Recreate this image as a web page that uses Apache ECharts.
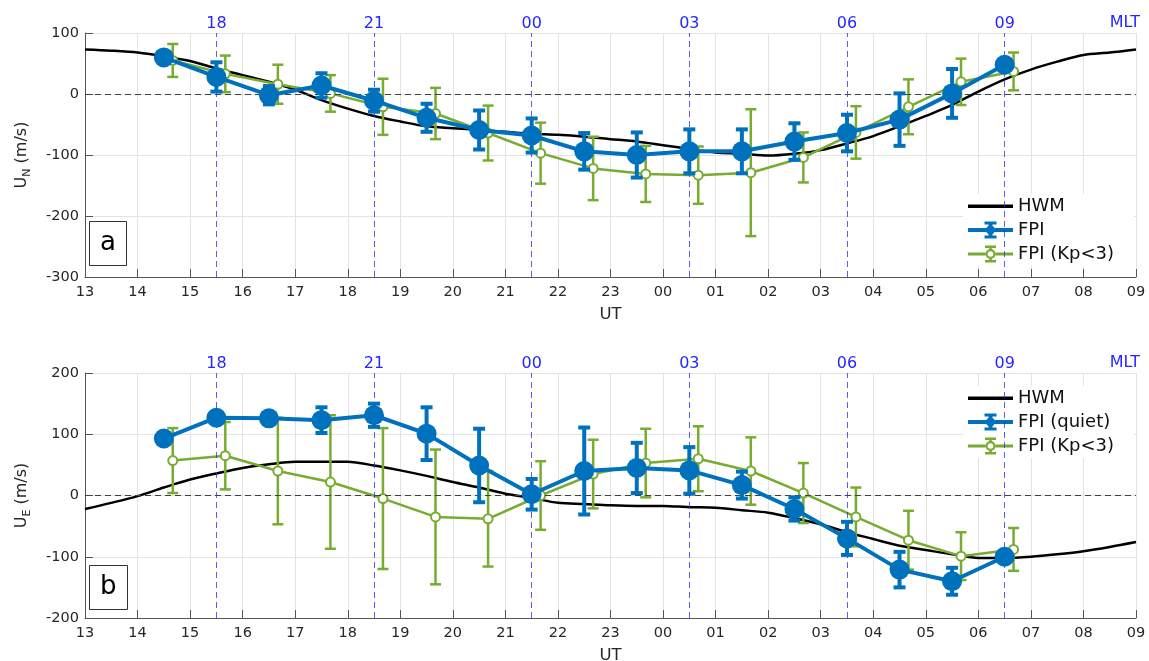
<!DOCTYPE html>
<html>
<head>
<meta charset="utf-8">
<script src="https://cdn.jsdelivr.net/npm/echarts@6/dist/echarts.min.js"></script>
<style>
html,body{margin:0;padding:0;background:#fff;}
#main{width:1149px;height:661px;}
</style>
</head>
<body>
<div id="main"></div>
<script>
// UT hours (13 .. 33 = 09 next day)
var hwmUT = [13,13.5,14,14.5,15,15.5,16,16.5,17,17.5,18,18.5,19,19.5,20,20.5,21,21.5,22,22.5,23,
             23.5,24,24.5,25,25.5,26,26.5,27,27.5,28,28.5,29,29.5,30,30.5,31,31.5,32,32.5,33];
var fpiUT = [14.5,15.5,16.5,17.5,18.5,19.5,20.5,21.5,22.5,23.5,24.5,25.5,26.5,27.5,28.5,29.5,30.5];
var kpUT  = [14.67,15.67,16.67,17.67,18.67,19.67,20.67,21.67,22.67,23.67,24.67,25.67,26.67,27.67,28.67,29.67,30.67];

// MLT markers
var mltUT = [15.5,18.5,21.5,24.5,27.5,30.5];
var mltLabels = ['18','21','00','03','06','09'];

// panel a : U_N
var hwmA = [73,71,68,62,54,42,31,20,7,-10,-24,-36,-45,-53,-56,-59,-62,-65,-67,-70,-74,
            -78,-84,-90,-96,-98,-101,-98,-92,-81,-69,-53,-36,-18,4,24,40,53,64,68,73];
var fpiA    = [60,28,-2,14,-11,-39,-59,-68,-94,-100,-94,-94,-78,-64,-42,1,48];
var fpiAErr = [8,24,15,20,18,23,32,28,30,37,36,36,30,30,43,40,8];
var kpA     = [55,33,16,1,-21,-32,-64,-97,-122,-131,-133,-129,-104,-63,-21,20,37];
var kpAErr  = [27,30,32,30,46,42,45,50,52,46,47,104,41,43,45,38,31];

// panel b : U_E
var hwmB = [-22,-12,-1,13,26,36,45,51,55,55,55,49,41,32,22,13,3,-4,-12,-14,-16,
            -17,-17,-19,-20,-24,-28,-37,-47,-60,-71,-82,-89,-96,-102,-102,-100,-96,-91,-84,-76];
var fpiB    = [93,127,126,123,131,101,49,2,40,45,41,17,-22,-70,-121,-140,-100];
var fpiBErr = [8,8,8,21,19,43,60,25,71,41,38,22,19,27,29,22,8];
var kpB     = [57,65,40,22,-5,-35,-38,0,35,53,60,40,4,-35,-73,-99,-88];
var kpBErr  = [53,55,87,109,115,110,78,56,56,56,53,55,49,48,48,39,35];

var BLUE = '#0072BD', GREEN = '#77AC30', MLTC = '#2626ff';
var FONT = 'DejaVu Sans';

// legend icons (line + errorbar + marker), drawn in a 45x17 box
var ICON_HWM = 'path://M0 7H45V10.5H0Z M0 0H0.01V17H0Z M44.99 0H45V17H44.99Z';
var ICON_FPI = 'path://M0 6.5H45V10.5H0Z M20.5 0H24.5V17H20.5Z M16.5 0H28.5V3H16.5Z M16.5 14H28.5V17H16.5Z' +
               'M27 8.5A4.5 4.5 0 1 1 18 8.5A4.5 4.5 0 1 1 27 8.5Z';
var ICON_KP  = 'path://M0 7H17.5V10H0Z M27.5 7H45V10H27.5Z M21.25 0H23.75V4H21.25Z M21.25 13H23.75V17H21.25Z' +
               'M17 0H28V2.5H17Z M17 14.5H28V17H17Z' +
               'M27.5 8.5A5 5 0 1 1 17.5 8.5A5 5 0 1 1 27.5 8.5Z M25.3 8.5A2.8 2.8 0 1 0 19.7 8.5A2.8 2.8 0 1 0 25.3 8.5Z';

function pad(v){ v = ((v % 24) + 24) % 24; return (v < 10 ? '0' : '') + v; }
function pairs(xs, ys){ var r = []; for (var i = 0; i < xs.length; i++) r.push([xs[i], ys[i]]); return r; }
function errs(xs, ys, es){ var r = []; for (var i = 0; i < xs.length; i++) r.push([xs[i], ys[i]-es[i], ys[i]+es[i]]); return r; }

function errRender(color, lw, cap){
  return function(params, api){
    var x = api.value(0);
    var lo = api.coord([x, api.value(1)]);
    var hi = api.coord([x, api.value(2)]);
    var st = {stroke: color, lineWidth: lw};
    return {type: 'group', children: [
      {type: 'line', shape: {x1: lo[0], y1: lo[1], x2: hi[0], y2: hi[1]}, style: st},
      {type: 'line', shape: {x1: lo[0]-cap/2, y1: lo[1], x2: lo[0]+cap/2, y2: lo[1]}, style: st},
      {type: 'line', shape: {x1: hi[0]-cap/2, y1: hi[1], x2: hi[0]+cap/2, y2: hi[1]}, style: st}
    ]};
  };
}

function markLines(){
  var d = [{yAxis: 0, lineStyle: {color: '#404040', type: [6,4], width: 1}}];
  for (var i = 0; i < mltUT.length; i++){
    d.push({xAxis: mltUT[i], lineStyle: {color: MLTC, type: [6,4], width: 1, opacity: 0.75}});
  }
  return {silent: true, symbol: 'none', label: {show: false}, data: d};
}

function utAxis(g){
  return {
    type: 'value', gridIndex: g, min: 13, max: 33, interval: 1,
    name: 'UT', nameLocation: 'middle', nameGap: 29,
    nameTextStyle: {fontFamily: FONT, fontSize: 16.5, color: '#262626'},
    axisLine: {show: true, onZero: false, lineStyle: {color: '#555'}},
    axisTick: {inside: true, length: 8, lineStyle: {color: '#555'}},
    axisLabel: {fontFamily: FONT, fontSize: 14.5, color: '#262626', margin: 8, formatter: pad},
    splitLine: {show: true, lineStyle: {color: '#e3e3e3'}}
  };
}
function mltAxis(g){
  return {
    type: 'value', gridIndex: g, position: 'top', min: 13, max: 33,
    axisLine: {show: false}, axisTick: {show: false}, splitLine: {show: false},
    axisLabel: {customValues: mltUT, fontFamily: FONT, fontSize: 16, color: MLTC, margin: 1,
      formatter: function(v){ var i = mltUT.indexOf(v); return i < 0 ? '' : mltLabels[i]; }}
  };
}
function yAxis(g, min, max, sub){
  return {
    type: 'value', gridIndex: g, min: min, max: max, interval: 100,
    name: '{u|U}{s|' + sub + '}{u| (m/s)}', nameLocation: 'middle', nameGap: 52,
    nameTextStyle: {fontFamily: FONT, color: '#262626',
      rich: {u: {fontSize: 16, fontFamily: FONT, color: '#262626'},
             s: {fontSize: 11, fontFamily: FONT, color: '#262626', padding: [12, 0, 0, 0]}}},
    axisLine: {show: true, lineStyle: {color: '#555'}},
    axisTick: {inside: true, length: 8, lineStyle: {color: '#555'}},
    axisLabel: {fontFamily: FONT, fontSize: 14.5, color: '#262626', margin: 6},
    splitLine: {show: true, lineStyle: {color: '#e3e3e3'}}
  };
}

function panelSeries(xi, yi, hwm, fpi, fpiErr, kp, kpErr, fpiName){
  return [
    {name: 'HWM', type: 'line', xAxisIndex: xi, yAxisIndex: yi, data: pairs(hwmUT, hwm),
     symbol: 'none', smooth: 0.3, z: 2, color: '#000',
     lineStyle: {color: '#000', width: 2.5}, markLine: markLines()},
    {type: 'custom', xAxisIndex: xi, yAxisIndex: yi, data: errs(kpUT, kp, kpErr), z: 3,
     renderItem: errRender(GREEN, 2.5, 11)},
    {name: 'FPI (Kp<3)', type: 'line', xAxisIndex: xi, yAxisIndex: yi, data: pairs(kpUT, kp), z: 4,
     symbol: 'emptyCircle', symbolSize: 9, color: GREEN,
     itemStyle: {color: GREEN, borderWidth: 2}, lineStyle: {color: GREEN, width: 2.5}},
    {type: 'custom', xAxisIndex: xi, yAxisIndex: yi, data: errs(fpiUT, fpi, fpiErr), z: 5,
     renderItem: errRender(BLUE, 4, 12)},
    {name: fpiName, type: 'line', xAxisIndex: xi, yAxisIndex: yi, data: pairs(fpiUT, fpi), z: 6,
     symbol: 'circle', symbolSize: 20, color: BLUE,
     itemStyle: {color: BLUE}, lineStyle: {color: BLUE, width: 4}}
  ];
}

function legend(top, fpiName){
  return {
    orient: 'vertical', left: 963, top: top, backgroundColor: '#fff',
    itemWidth: 45, itemHeight: 17, itemGap: 6, padding: [3, 20, 3, 5],
    symbolKeepAspect: false,
    data: [
      {name: 'HWM', icon: ICON_HWM, itemStyle: {color: '#000', borderWidth: 0}},
      {name: fpiName, icon: ICON_FPI, itemStyle: {color: BLUE, borderWidth: 0}},
      {name: 'FPI (Kp<3)', icon: ICON_KP, itemStyle: {color: GREEN, borderWidth: 0}}
    ],
    textStyle: {fontFamily: FONT, fontSize: 18, lineHeight: 18, color: '#111'}, selectedMode: false
  };
}

function panelLabel(txt, top){
  return {text: txt, left: 89, top: top, backgroundColor: '#fff', borderColor: '#333', borderWidth: 1,
          padding: [9, 11, 10, 11],
          textStyle: {fontFamily: FONT, fontSize: 26, fontWeight: 'normal', color: '#000'}};
}

var chart = echarts.init(document.getElementById('main'), null, {renderer: 'canvas'});
var option = {
  animation: false,
  backgroundColor: '#fff',
  title: [panelLabel('a', 221), panelLabel('b', 565)],
  grid: [
    {left: 85, top: 33, width: 1051, height: 244, outerBoundsMode: 'none'},
    {left: 85, top: 373, width: 1051, height: 245, outerBoundsMode: 'none'}
  ],
  xAxis: [utAxis(0), mltAxis(0), utAxis(1), mltAxis(1)],
  yAxis: [yAxis(0, -300, 100, 'N'), yAxis(1, -200, 200, 'E')],
  legend: [legend(194, 'FPI'), legend(386, 'FPI (quiet)')],
  graphic: [
    {type: 'text', right: 9, top: 15, style: {text: 'MLT', fontFamily: FONT, fontSize: 16, fill: MLTC}},
    {type: 'text', right: 9, top: 355, style: {text: 'MLT', fontFamily: FONT, fontSize: 16, fill: MLTC}}
  ],
  series: [].concat(
    panelSeries(0, 0, hwmA, fpiA, fpiAErr, kpA, kpAErr, 'FPI'),
    panelSeries(2, 1, hwmB, fpiB, fpiBErr, kpB, kpBErr, 'FPI (quiet)')
  )
};
chart.setOption(option);
</script>
</body>
</html>
